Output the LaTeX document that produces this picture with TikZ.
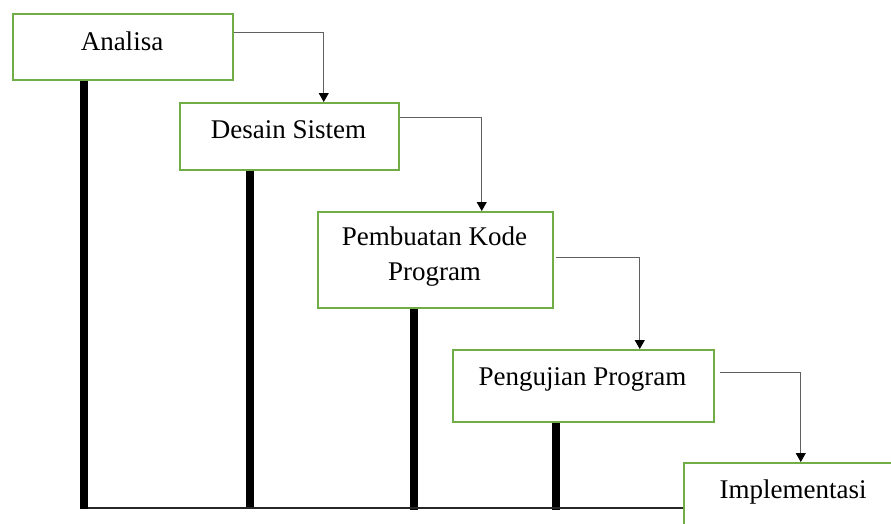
\documentclass[tikz,border=0pt]{standalone}
\usepackage{fontspec}
\setmainfont{Liberation Serif}
\usetikzlibrary{arrows.meta}
\definecolor{hijau}{RGB}{112,173,71}
\definecolor{abu}{RGB}{96,96,96}

\begin{document}
\begin{tikzpicture}[x=1pt, y=-1pt,
    kotak/.style={draw=hijau, line width=1.5pt, fill=white, inner sep=0pt, anchor=north west},
    teks/.style={inner sep=0pt, font=\fontsize{27}{35}\selectfont},
    panah/.style={draw=abu, line width=1pt, -{Triangle[length=9pt, width=10pt, color=black]}},
    batang/.style={line width=8pt, black}]
    \useasboundingbox (0,0) rectangle (891,523);
    \clip (0,0) rectangle (891,523);

    \node[kotak, minimum width=220, minimum height=66] (analisa) at (12,13) {};
    \node[kotak, minimum width=219, minimum height=67] (desain) at (179,102) {};
    \node[kotak, minimum width=235, minimum height=96] (pembuatan) at (317,211) {};
    \node[kotak, minimum width=261, minimum height=72] (pengujian) at (452,349) {};

    \node[teks, anchor=base] (tAnalisa) at (122,50) {Analisa};
    \node[teks, anchor=base] (tDesain) at (288.5,138) {Desain Sistem};
    \node[teks, anchor=north, align=center] (tPembuatan) at (434.5,226.5) {Pembuatan Kode\\Program};
    \node[teks, anchor=base] (tPengujian) at (582.5,385) {Pengujian Program};

    \draw[panah] ([yshift=-19pt]analisa.north east) -| ([xshift=34.5pt]desain.north);
    \draw[panah] ([yshift=-15pt]desain.north east) -| ([xshift=46.5pt]pembuatan.north);
    \draw[panah] ([xshift=2pt, yshift=-46pt]pembuatan.north east) -| ([xshift=56.5pt]pengujian.north);

    % tiang
    \draw[batang] ([xshift=72pt]analisa.south west) -- +(0,428);
    \draw[batang] ([xshift=71pt]desain.south west) -- +(0,338);
    \draw[batang] ([xshift=97pt]pembuatan.south west) -- +(0,201);
    \draw[batang] ([xshift=104pt]pengujian.south west) -- +(0,87);

    \node[kotak, minimum width=220, minimum height=70] (implementasi) at (683,462) {};
    \node[teks, anchor=base] (tImplementasi) at (793,498) {Implementasi};
    \draw[panah] ([xshift=5pt, yshift=-23pt]pengujian.north east) -| ([xshift=7pt]implementasi.north);

    \coordinate (dasar) at (88,508);
    \draw[line width=1.5pt, black!85] (dasar) -- (dasar -| implementasi.west);
\end{tikzpicture}
\end{document}
